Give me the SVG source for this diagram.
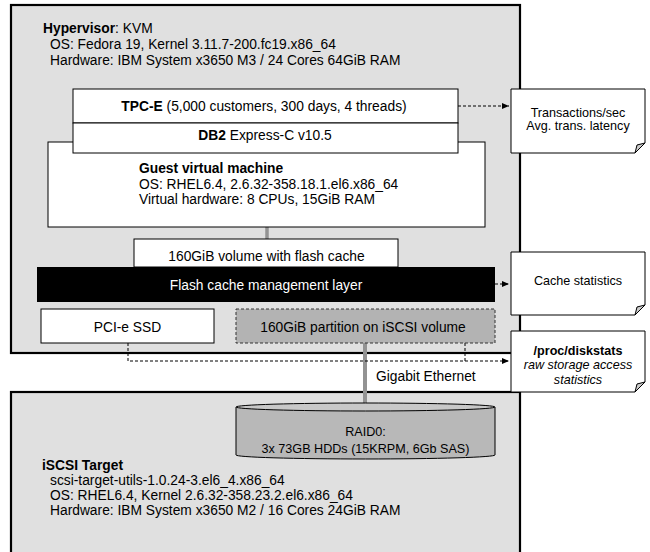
<svg xmlns="http://www.w3.org/2000/svg" width="650" height="552" viewBox="0 0 650 552">
<defs>
<style>
text{font-family:"Liberation Sans",Arial,sans-serif;font-size:13.8px;fill:#000}
.n{font-size:12.6px}
.b{font-weight:bold}
.i{font-style:italic}
.c{text-anchor:middle}
.host{fill:#e0e0e0;stroke:#000;stroke-width:2.2}
.box{fill:#fff;stroke:#000;stroke-width:1}
.note{fill:#fff;stroke:#000;stroke-width:1}
.fold{fill:#ccc;stroke:#000;stroke-width:1}
.dash{fill:none;stroke:#000;stroke-width:1;stroke-dasharray:3,2}
.pipe{stroke:#939393;fill:none}
</style>
<marker id="ah" markerWidth="8" markerHeight="8" refX="7" refY="4" orient="auto" markerUnits="userSpaceOnUse">
<path d="M0,1 L7,4 L0,7 Z" fill="#000"/>
</marker>
</defs>

<g id="hypervisor">
<rect class="host" x="11" y="5" width="509" height="348"/>
<text x="43" y="33"><tspan class="b">Hypervisor</tspan>: KVM</text>
<text x="50" y="49">OS: Fedora 19, Kernel 3.11.7-200.fc19.x86_64</text>
<text x="50" y="65">Hardware: IBM System x3650 M3 / 24 Cores 64GiB RAM</text>
</g>

<g id="iscsi-target">
<rect class="host" x="11" y="392" width="509" height="170"/>
<text x="42" y="470" class="b">iSCSI Target</text>
<text x="50" y="485">scsi-target-utils-1.0.24-3.el6_4.x86_64</text>
<text x="50" y="500">OS: RHEL6.4, Kernel 2.6.32-358.23.2.el6.x86_64</text>
<text x="50" y="515">Hardware: IBM System x3650 M2 / 16 Cores 24GiB RAM</text>
</g>

<g id="connectors">
<line class="pipe" x1="267" y1="227" x2="267" y2="240" stroke-width="3.5"/>
<line class="pipe" x1="365" y1="343" x2="365" y2="405" stroke-width="4"/>
<path class="dash" d="M458,106 H509" marker-end="url(#ah)"/>
<path class="dash" d="M495,284 H509" marker-end="url(#ah)"/>
<path class="dash" d="M128,343 V361 H509" marker-end="url(#ah)"/>
<path class="dash" d="M465,343 V361"/>
<text x="376" y="381">Gigabit Ethernet</text>
</g>

<g id="guest-vm">
<rect class="box" x="48" y="142" width="437" height="85"/>
<text x="139" y="173" class="b">Guest virtual machine</text>
<text x="139" y="189">OS: RHEL6.4, 2.6.32-358.18.1.el6.x86_64</text>
<text x="139" y="204">Virtual hardware: 8 CPUs, 15GiB RAM</text>
</g>

<g id="tpce">
<rect class="box" x="73" y="89" width="385" height="34"/>
<text x="264" y="111" class="c"><tspan class="b">TPC-E</tspan> (5,000 customers, 300 days, 4 threads)</text>
</g>

<g id="db2">
<rect class="box" x="73" y="123" width="385" height="30"/>
<text x="265" y="140" class="c"><tspan class="b">DB2</tspan> Express-C v10.5</text>
</g>

<g id="flash-layer">
<rect x="37" y="267" width="458" height="35" fill="#000"/>
<text x="266" y="290" class="c" style="fill:#fff">Flash cache management layer</text>
</g>

<g id="volume">
<rect class="box" x="134" y="239" width="264" height="28"/>
<text x="266.5" y="261" class="c">160GiB volume with flash cache</text>
</g>

<g id="pcie-ssd">
<rect class="box" x="41" y="309" width="173" height="34"/>
<text x="127.5" y="332" class="c">PCI-e SSD</text>
</g>

<g id="iscsi-partition">
<rect x="236" y="309" width="259" height="34" fill="#b3b3b3" stroke="#333" stroke-width="1" stroke-dasharray="3,2"/>
<text x="363" y="332" class="c">160GiB partition on iSCSI volume</text>
</g>

<g id="raid">
<path d="M236,407 V455 A129.5,4 0 0 0 495,455 V407" fill="#b8b8b8" stroke="#000" stroke-width="1"/>
<ellipse cx="365.5" cy="407" rx="129.5" ry="4" fill="#c8c8c8" stroke="#000" stroke-width="1"/>
<text x="365.5" y="436" class="c n">RAID0:</text>
<text x="365.5" y="453" class="c n">3x 73GB HDDs (15KRPM, 6Gb SAS)</text>
</g>

<g id="note-transactions">
<path class="note" d="M511,89 H645 V143 L635,153 H511 Z"/>
<path class="fold" d="M645,143 L635,153 L637,145 Z"/>
<text x="578" y="116.5" class="c n">Transactions/sec</text>
<text x="578" y="130" class="c n">Avg. trans. latency</text>
</g>

<g id="note-cache">
<path class="note" d="M511,252 H645 V305 L635,315 H511 Z"/>
<path class="fold" d="M645,305 L635,315 L637,307 Z"/>
<text x="578" y="284.5" class="c n">Cache statistics</text>
</g>

<g id="note-diskstats">
<path class="note" d="M511,331 H645 V382 L635,392 H511 Z"/>
<path class="fold" d="M645,382 L635,392 L637,384 Z"/>
<text x="578" y="354.5" class="c b n">/proc/diskstats</text>
<text x="578" y="369" class="c i n">raw storage access</text>
<text x="578" y="383.5" class="c i n">statistics</text>
</g>
</svg>
